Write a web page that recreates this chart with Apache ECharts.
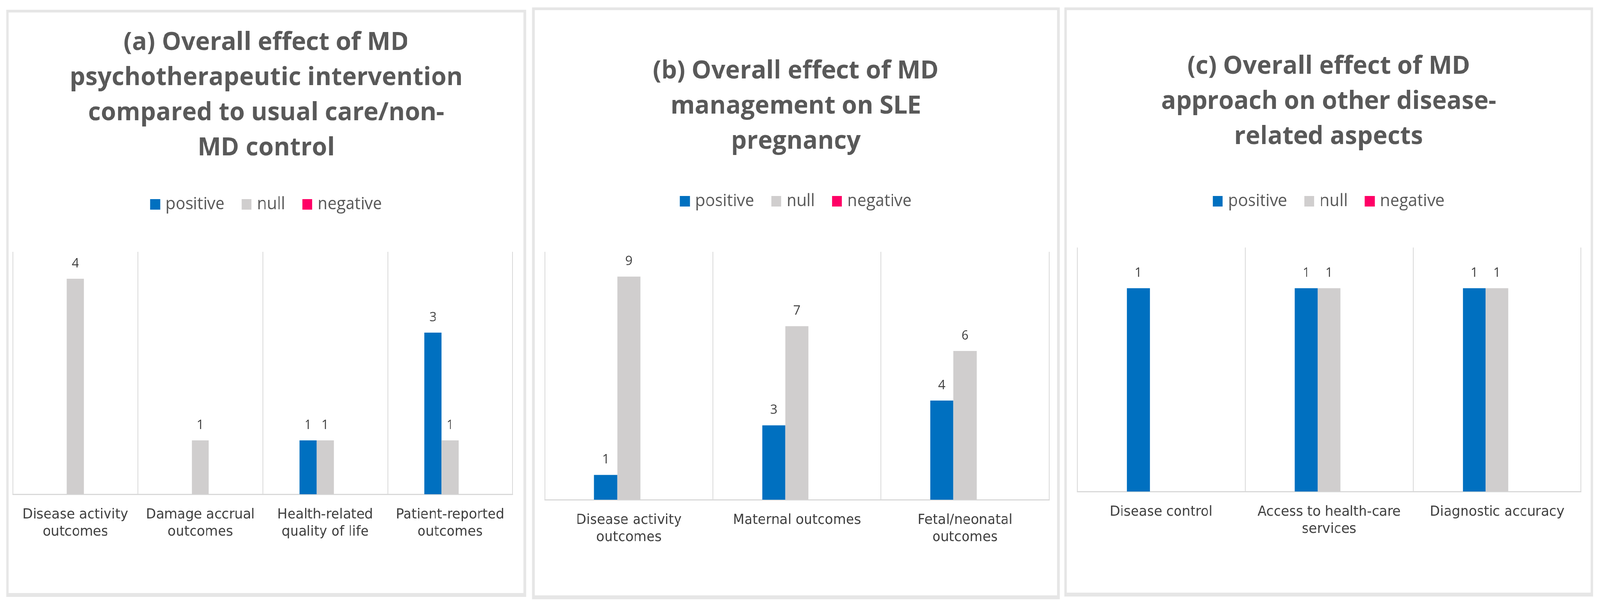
<!DOCTYPE html>
<html>
<head>
<meta charset="utf-8">
<script src="https://cdn.jsdelivr.net/npm/echarts@6/dist/echarts.min.js"></script>
<style>
    html, body { margin: 0; padding: 0; background: #ffffff; overflow: hidden; }
    #page { width: 4208px; height: 1542px; position: relative; transform-origin: 0 0; }
    .panel {
        position: absolute;
        box-sizing: border-box;
        border: 7px solid #e6e6e6;
        border-bottom-width: 10px;
        background: #ffffff;
    }
    .chart { width: 100%; height: 100%; }
</style>
</head>
<body>
<div id="page">
    <div class="panel" style="left:16px;top:25px;width:1368px;height:1504px;"><div id="chartA" class="chart"></div></div>
    <div class="panel" style="left:1399px;top:19px;width:1388px;height:1516px;"><div id="chartB" class="chart"></div></div>
    <div class="panel" style="left:2799px;top:19px;width:1391px;height:1509px;"><div id="chartC" class="chart"></div></div>
</div>
<script>
// the figure is laid out at 4208 wide; squeeze it into the real window width
document.getElementById('page').style.transform = 'scaleX(' + (window.innerWidth / 4208) + ')';

// series names
const seriesNames = ['positive', 'null', 'negative'];
const seriesColors = ['#0070c0', '#d0cece', '#ff0066'];

// (a) MD psychotherapeutic intervention
const titleA = '(a) Overall effect of MD\npsychotherapeutic intervention\ncompared to usual care/non-\nMD control';
const categoriesA = ['Disease activity\noutcomes', 'Damage accrual\noutcomes', 'Health-related\nquality of life', 'Patient-reported\noutcomes'];
const positiveA = [0, 0, 1, 3];
const nullA = [4, 1, 1, 1];
const negativeA = [0, 0, 0, 0];

// (b) MD management on SLE pregnancy
const titleB = '(b) Overall effect of MD\nmanagement on SLE\npregnancy';
const categoriesB = ['Disease activity\noutcomes', 'Maternal outcomes', 'Fetal/neonatal\noutcomes'];
const positiveB = [1, 3, 4];
const nullB = [9, 7, 6];
const negativeB = [0, 0, 0];

// (c) MD approach on other aspects
const titleC = '(c) Overall effect of MD\napproach on other disease-\nrelated aspects';
const categoriesC = ['Disease control', 'Access to health-care\nservices', 'Diagnostic accuracy'];
const positiveC = [1, 1, 1];
const nullC = [0, 1, 1];
const negativeC = [0, 0, 0];

/**
 * draw one grouped bar panel
 */
function renderPanel(dom, cfg) {
    const chart = echarts.init(dom);
    const values = [cfg.positive, cfg.nullv, cfg.negative];

    const option = {
        animation: false,
        title: {
            text: cfg.title,
            left: 'center',
            top: cfg.titleTop,
            textStyle: {
                fontFamily: 'Open Sans',
                fontWeight: 'bold',
                fontSize: 65,
                lineHeight: 90,
                color: '#595959',
            },
        },
        legend: {
            data: seriesNames,
            left: 'center',
            top: cfg.legendTop,
            itemWidth: 26,
            itemHeight: 27,
            itemGap: 45,
            icon: 'rect',
            textStyle: {
                fontFamily: 'Open Sans',
                fontSize: 43,
                color: '#595959',
                padding: [0, 0, 0, 9],
            },
        },
        grid: cfg.grid,
        xAxis: {
            type: 'category',
            data: cfg.categories,
            axisLine: { lineStyle: { color: '#d9d9d9', width: 3 } },
            axisTick: { show: false },
            splitLine: { show: true, lineStyle: { color: '#d9d9d9', width: 2 } },
            axisLabel: {
                fontFamily: 'DejaVu Sans',
                fontSize: 35,
                lineHeight: 44,
                color: '#404040',
                margin: 31,
                interval: 0,
            },
        },
        yAxis: {
            type: 'value',
            min: 0,
            max: cfg.max,
            show: false,
            splitLine: { show: false },
        },
        series: seriesNames.map((name, i) => ({
            name: name,
            type: 'bar',
            data: values[i],
            barWidth: cfg.barWidth,
            barGap: '0%',
            itemStyle: { color: seriesColors[i] },
            label: {
                show: true,
                position: 'top',
                distance: 22,
                fontFamily: 'Open Sans',
                fontSize: 33,
                color: '#404040',
                formatter: (p) => (p.value === 0 ? '' : p.value), // 0 不显示
            },
        })),
    };

    chart.setOption(option);
}

renderPanel(document.getElementById('chartA'), {
    title: titleA, titleTop: 27, legendTop: 465,
    categories: categoriesA, positive: positiveA, nullv: nullA, negative: negativeA,
    max: 4.5, barWidth: 45,
    grid: { left: 11, right: 29, top: 613, bottom: 253 },
});

renderPanel(document.getElementById('chartB'), {
    title: titleB, titleTop: 106, legendTop: 463,
    categories: categoriesB, positive: positiveB, nullv: nullB, negative: negativeB,
    max: 10, barWidth: 61,
    grid: { left: 27, right: 21, top: 619, bottom: 245 },
});

renderPanel(document.getElementById('chartC'), {
    title: titleC, titleTop: 94, legendTop: 463,
    categories: categoriesC, positive: positiveC, nullv: nullC, negative: negativeC,
    max: 1.2, barWidth: 60,
    grid: { left: 27, right: 25, top: 608, bottom: 259 },
});
</script>
</body>
</html>
